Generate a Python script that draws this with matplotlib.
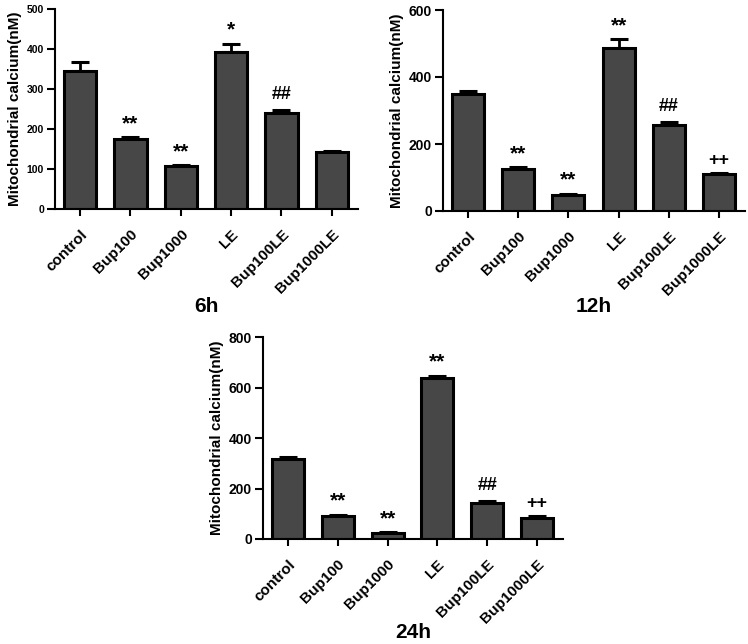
import matplotlib
matplotlib.use("Agg")
import matplotlib.pyplot as plt

categories = ["control", "Bup100", "Bup1000", "LE", "Bup100LE", "Bup1000LE"]

vals_6h = [346, 174, 107, 392, 240, 142]
err_6h = [22, 5, 2, 21, 8, 2]
sig_6h = ["", "**", "**", "*", "##", ""]

vals_12h = [349, 125, 48, 486, 257, 111]
err_12h = [10, 6, 3, 26, 10, 3]
sig_12h = ["", "**", "**", "**", "##", "++"]

vals_24h = [315, 93, 25, 636, 144, 85]
err_24h = [8, 3, 2, 10, 6, 6]
sig_24h = ["", "**", "**", "**", "##", "++"]

panels = [
    ("6h", vals_6h, err_6h, sig_6h, 500, [0, 100, 200, 300, 400, 500]),
    ("12h", vals_12h, err_12h, sig_12h, 600, [0, 200, 400, 600]),
    ("24h", vals_24h, err_24h, sig_24h, 800, [0, 200, 400, 600, 800]),
]

plt.rcParams['font.family'] = ['Liberation Sans', 'DejaVu Sans']
plt.rcParams['font.weight'] = 'bold'

W, H = 748, 644
fig = plt.figure(figsize=(W / 100, H / 100), dpi=100)

# axes rectangles in pixels: left, top, right, bottom
rects = [(55, 9, 358, 209), (443, 10, 745, 211), (263, 337, 563, 539)]
title_y = [307, 307, 633]
ytick_sizes = [7.5, 10, 10]

for (name, vals, errs, sigs, ymax, yticks), (l, t, r, b), ty, yts in zip(panels, rects, title_y, ytick_sizes):
    ax = fig.add_axes([l / W, 1 - b / H, (r - l) / W, (b - t) / H])
    x = list(range(len(categories)))
    ax.bar(x, vals, width=0.64, color="#474747", edgecolor="black", linewidth=2.2, zorder=2)
    ax.errorbar(x, vals, yerr=[[0] * len(errs), errs], fmt="none", ecolor="black",
                elinewidth=2, capsize=6.5, capthick=2.2, zorder=1)
    for xi, v, e, s in zip(x, vals, errs, sigs):
        if s:
            if "*" in s:
                fs, off = 15, 3
            elif "#" in s:
                fs, off = 13, 5
            else:
                fs, off = 13, 3
            ax.annotate(s, (xi, v + e), xytext=(0, off), textcoords="offset points",
                        ha="center", va="bottom", fontsize=fs, fontweight="bold")
    ax.set_xlim(-0.5, 5.52)
    ax.set_ylim(0, ymax)
    ax.set_yticks(yticks)
    ax.set_xticks(x)
    ax.set_xticklabels(categories, rotation=45, ha="right", rotation_mode="anchor",
                       fontsize=11, fontweight="bold")
    ax.tick_params(axis="y", labelsize=yts, width=1.5, length=6, direction="out", pad=2)
    ax.tick_params(axis="x", width=1.5, length=5, direction="out", pad=8)
    for lab in ax.get_yticklabels():
        lab.set_fontweight("bold")
    for sp in ["top", "right"]:
        ax.spines[sp].set_visible(False)
    for sp in ["left", "bottom"]:
        ax.spines[sp].set_linewidth(1.5)
    ax.set_ylabel("Mitochondrial calcium(nM)", fontsize=11, fontweight="bold", labelpad=3)
    cx = (l + r) / 2
    fig.text(cx / W, 1 - ty / H, name, ha="center", va="center", fontsize=15, fontweight="bold")

fig.savefig("out.png", dpi=100)
